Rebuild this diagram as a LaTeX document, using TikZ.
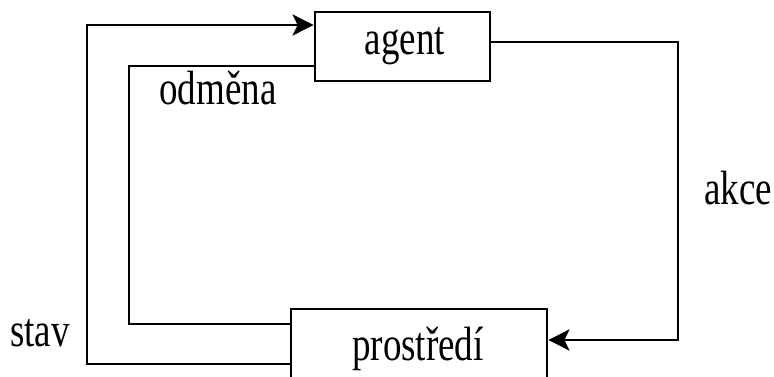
\documentclass[tikz,border=0pt]{standalone}
\usepackage{fontspec}
\setmainfont{Liberation Serif}
\usetikzlibrary{arrows.meta}
\begin{document}
\begin{tikzpicture}[x=1pt,y=-1pt,
  line width=2.8pt,
  box/.style={draw,line width=2.8pt,inner sep=0pt},
  lbl/.style={inner sep=0pt,font=\fontsize{37}{40}\selectfont},
  arr/.style={-{Stealth[length=21pt,width=21pt,inset=5pt]}},
]
\useasboundingbox (0,0) rectangle (774,376);
\clip (0,0) rectangle (774,376);
\node[box,minimum width=175pt,minimum height=69pt] (agent) at (402.5,46.5) {};
\node[box,minimum width=256pt,minimum height=81pt] (env) at (419,349.5) {};
\node[lbl] (agentt) at (405,46) {\scalebox{1}[1.3]{agent}};
\node[lbl] (envt) at (418,349) {\scalebox{1}[1.3]{prostředí}};
\node[lbl] (odm) at (218,88) {\scalebox{1}[1.3]{odměna}};
\node[lbl] (stav) at (40,333) {\scalebox{1}[1.3]{stav}};
\node[lbl] (akce) at (738,188) {\scalebox{1}[1.3]{akce}};
\coordinate (ak) at (678,42);
\coordinate (ak2) at (678,340);
\coordinate (st) at (87,364);
\coordinate (st2) at (87,25);
\coordinate (od) at (129,324);
\coordinate (od2) at (129,66);
\draw[arr] (agent.east |- ak) -- (ak) -- (ak2) -- (env.east |- ak2);
\draw[arr] (env.west |- st) -- (st) -- (st2) -- (agent.west |- st2);
\draw (env.west |- od) -- (od) -- (od2) -- (agent.west |- od2);
\end{tikzpicture}
\end{document}
